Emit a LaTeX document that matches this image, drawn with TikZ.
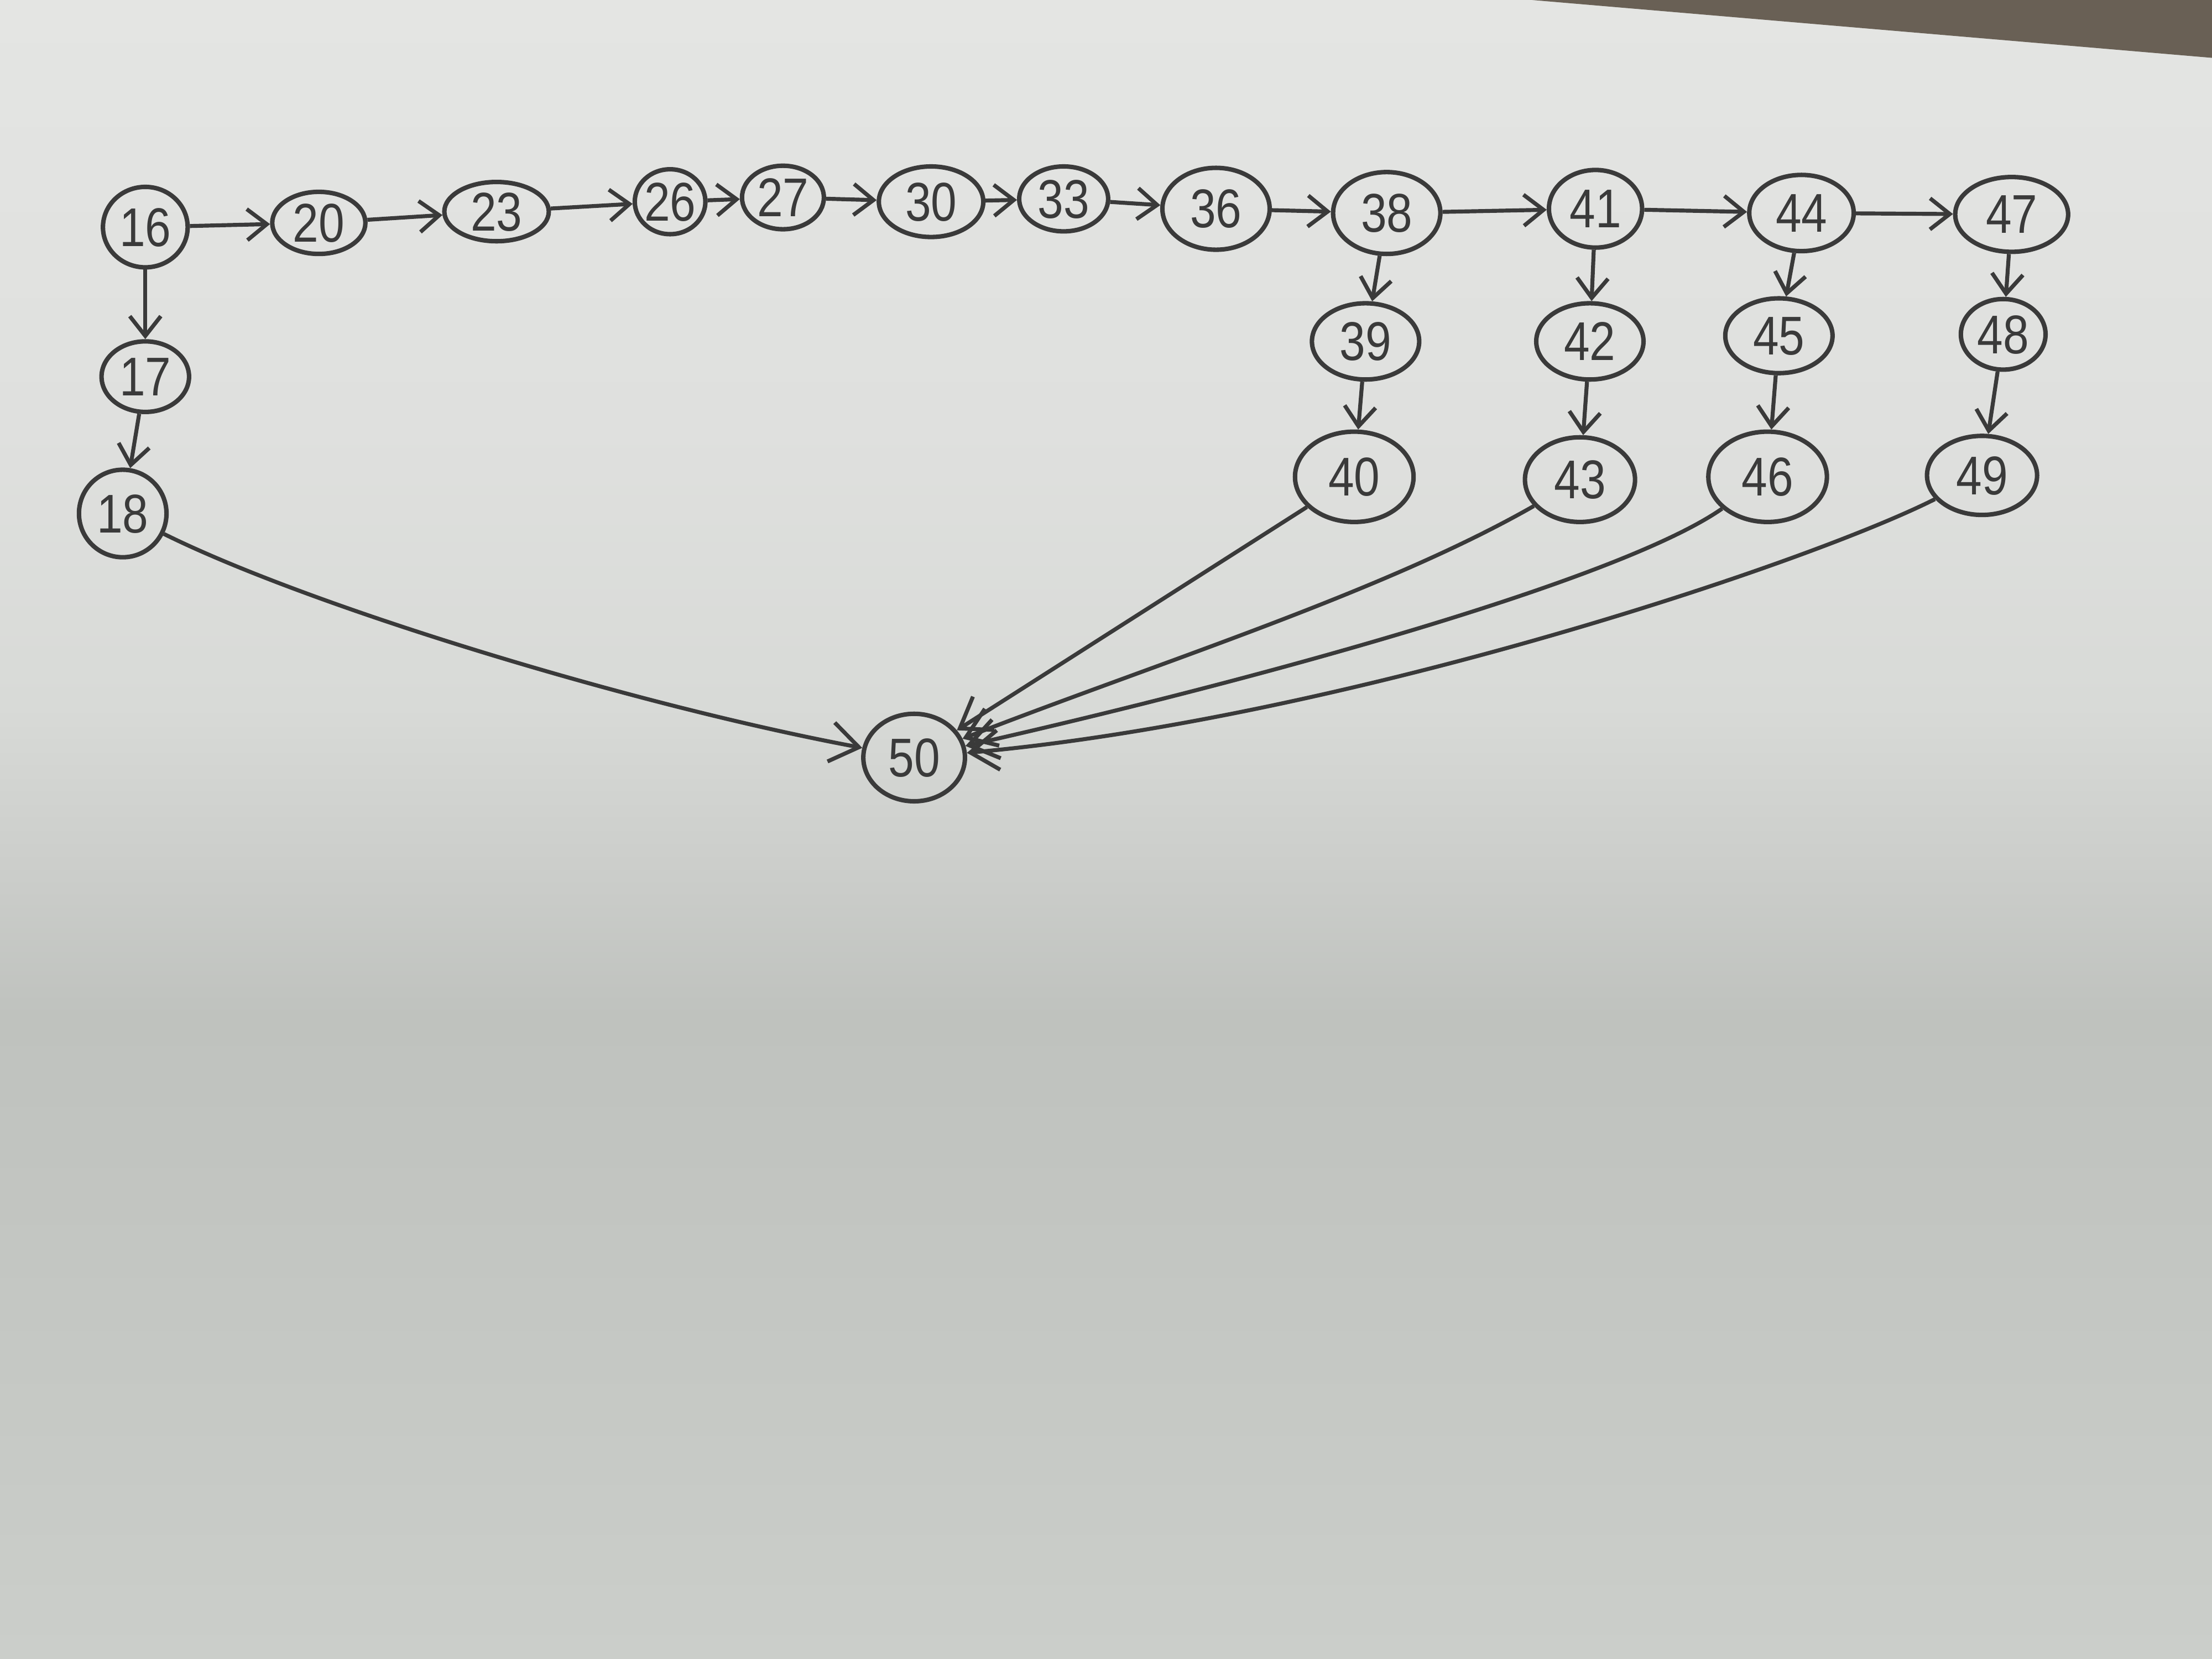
\documentclass[tikz,border=0pt]{standalone}
\usepackage{fontspec}
\setmainfont[FakeStretch=0.85]{Liberation Sans}
\usetikzlibrary{shapes.geometric,arrows.meta}
\definecolor{pencil}{RGB}{58,58,58}
\definecolor{wood}{RGB}{105,96,85}
\definecolor{pa}{RGB}{203,206,202}
\definecolor{pb}{RGB}{198,201,197}
\definecolor{pc}{RGB}{194,197,193}
\definecolor{pd}{RGB}{191,194,190}
\definecolor{pe}{RGB}{203,205,202}
\definecolor{pf}{RGB}{216,218,215}
\definecolor{pg}{RGB}{223,224,222}
\definecolor{ph}{RGB}{228,229,227}
\pgfdeclareverticalshading{paper}{100bp}{color(0bp)=(pa); color(25bp)=(pa); color(32.5bp)=(pb); color(38.9bp)=(pc); color(44.4bp)=(pd); color(48.6bp)=(pe); color(53.7bp)=(pf); color(62.2bp)=(pg); color(75bp)=(ph); color(100bp)=(ph)}
\newcommand\nlab[1]{\makebox[0pt]{\raisebox{-.5\height}[0pt][0pt]{#1}}}
\tikzset{
  nd/.style 2 args={ellipse, draw=pencil, line width=0.9pt, inner sep=0pt,
     minimum width=#1 cm, minimum height=#2 cm, text=pencil,
     font=\fontsize{11}{13}\selectfont},
  arr/.style={draw=pencil, line width=0.8pt, -{Straight Barb[length=1.4mm,width=2.2mm]}},
  bigarr/.style={draw=pencil, line width=0.8pt, -{Straight Barb[length=2mm,width=2.8mm]}}
}
\begin{document}
\begin{tikzpicture}[x=0.01cm,y=-0.01cm]
\useasboundingbox (0,0) rectangle (1568,1176);
\shade[shading=paper] (0,0) rectangle (1568,1176);
\fill[wood] (1086,0) -- (1568,0) -- (1568,41) -- cycle;

% top row
\node[nd={0.60}{0.57}] (n16) at (103,161) {\nlab{16}};
\node[nd={0.66}{0.44}] (n20) at (226,158) {\nlab{20}};
\node[nd={0.74}{0.42}] (n23) at (352,150) {\nlab{23}};
\node[nd={0.50}{0.46}] (n26) at (475,143) {\nlab{26}};
\node[nd={0.58}{0.45}] (n27) at (555,140) {\nlab{27}};
\node[nd={0.74}{0.50}] (n30) at (660,143) {\nlab{30}};
\node[nd={0.63}{0.46}] (n33) at (754,141) {\nlab{33}};
\node[nd={0.76}{0.58}] (n36) at (862,148) {\nlab{36}};
\node[nd={0.76}{0.58}] (n38) at (983,151) {\nlab{38}};
\node[nd={0.66}{0.55}] (n41) at (1131,148) {\nlab{41}};
\node[nd={0.74}{0.54}] (n44) at (1277,151) {\nlab{44}};
\node[nd={0.80}{0.53}] (n47) at (1426,152) {\nlab{47}};
% left column
\node[nd={0.62}{0.50}] (n17) at (103,267) {\nlab{17}};
\node[nd={0.62}{0.62}] (n18) at (87,364) {\nlab{18}};
% second row
\node[nd={0.76}{0.54}] (n39) at (968,242) {\nlab{39}};
\node[nd={0.76}{0.54}] (n42) at (1127,242) {\nlab{42}};
\node[nd={0.76}{0.53}] (n45) at (1261,238) {\nlab{45}};
\node[nd={0.60}{0.50}] (n48) at (1420,237) {\nlab{48}};
% third row
\node[nd={0.84}{0.64}] (n40) at (960,338) {\nlab{40}};
\node[nd={0.78}{0.60}] (n43) at (1120,340) {\nlab{43}};
\node[nd={0.84}{0.64}] (n46) at (1253,338) {\nlab{46}};
\node[nd={0.78}{0.56}] (n49) at (1405,337) {\nlab{49}};
% sink
\node[nd={0.72}{0.62}] (n50) at (648,537) {\nlab{50}};

% horizontal chain
\draw[arr] (n16) -- (n20);
\draw[arr] (n20) -- (n23);
\draw[arr] (n23) -- (n26);
\draw[arr] (n26) -- (n27);
\draw[arr] (n27) -- (n30);
\draw[arr] (n30) -- (n33);
\draw[arr] (n33) -- (n36);
\draw[arr] (n36) -- (n38);
\draw[arr] (n38) -- (n41);
\draw[arr] (n41) -- (n44);
\draw[arr] (n44) -- (n47);
% vertical chains
\draw[arr] (n16) -- (n17);
\draw[arr] (n17) -- (n18);
\draw[arr] (n38) -- (n39);
\draw[arr] (n39) -- (n40);
\draw[arr] (n41) -- (n42);
\draw[arr] (n42) -- (n43);
\draw[arr] (n44) -- (n45);
\draw[arr] (n45) -- (n46);
\draw[arr] (n47) -- (n48);
\draw[arr] (n48) -- (n49);
% into 50
\draw[bigarr] (n18) .. controls (220,430) and (450,500) .. (n50);
\draw[bigarr] (n40) -- (n50);
\draw[bigarr] (n43) .. controls (980,420) and (820,470) .. (n50);
\draw[bigarr] (n46) .. controls (1150,410) and (900,480) .. (n50);
\draw[bigarr] (n49) .. controls (1280,400) and (950,510) .. (n50);
\end{tikzpicture}
\end{document}
